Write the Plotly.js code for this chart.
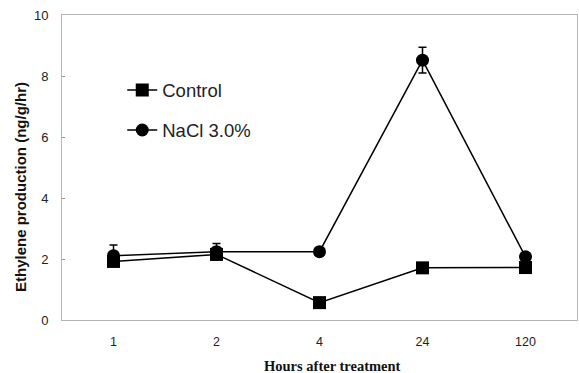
<!DOCTYPE html>
<html>
<head>
<meta charset="utf-8">
<script src="https://cdn.plot.ly/plotly-3.0.1.min.js"></script>
<style>html,body{margin:0;padding:0;background:#fff;}#chart{width:579px;height:373px;}</style>
</head>
<body>
<div id="chart"></div>
<script>
// Data
const hours = ['1', '2', '4', '24', '120'];
const controlValues = [1.92, 2.15, 0.57, 1.71, 1.72];
const controlErrors = [0.08, 0.08, 0.08, 0.08, 0.08];
const naclValues = [2.11, 2.24, 2.24, 8.52, 2.07];
const naclErrors = [0.35, 0.27, 0.05, 0.42, 0.12];
const yTicks = [0, 2, 4, 6, 8, 10];

const common = {
  type: 'scatter',
  mode: 'lines+markers',
  line: {color: '#000', width: 1.5},
  cliponaxis: false
};

const traces = [
  Object.assign({}, common, {
    x: hours, y: controlValues, name: 'Control', legendgroup: 'a',
    marker: {symbol: 'square', size: 13, color: '#000'},
    error_y: {type: 'data', array: controlErrors, visible: true, color: '#000', thickness: 1.5, width: 4}
  }),
  Object.assign({}, common, {
    x: hours, y: naclValues, name: 'NaCl 3.0%', legendgroup: 'b',
    marker: {symbol: 'circle', size: 13, color: '#000'},
    error_y: {type: 'data', array: naclErrors, visible: true, color: '#000', thickness: 1.5, width: 4}
  })
];

const layout = {
  width: 579, height: 373,
  margin: {l: 62, r: 2, t: 15, b: 53},
  paper_bgcolor: '#fff', plot_bgcolor: '#fff',
  font: {family: 'Liberation Sans, Arial, sans-serif', color: '#222'},
  showlegend: true,
  legend: {
    x: 0.117, y: 0.815, xanchor: 'left', yanchor: 'top',
    font: {size: 18.5, color: '#222', family: 'Liberation Sans, Arial, sans-serif'},
    bgcolor: 'rgba(0,0,0,0)', tracegroupgap: 13
  },
  xaxis: {
    type: 'category', categoryorder: 'array', categoryarray: hours,
    range: [-0.5, 4.5], showgrid: false, zeroline: false,
    showline: true, linecolor: '#b5b5b5', linewidth: 1, mirror: true,
    ticks: '', ticklabelstandoff: 10,
    tickfont: {size: 12.5, color: '#222'}
  },
  yaxis: {
    range: [0, 10], tickvals: yTicks, ticktext: yTicks.map(String),
    showgrid: false, zeroline: false,
    showline: true, linecolor: '#b5b5b5', linewidth: 1, mirror: true,
    ticks: 'inside', ticklen: 3, tickcolor: '#999',
    ticklabelstandoff: 10,
    tickfont: {size: 13, color: '#222'}
  },
  annotations: [
    {text: '<b>Ethylene production (ng/g/hr)</b>', xref: 'paper', yref: 'paper',
     x: -0.0816, y: 0.436, xanchor: 'center', yanchor: 'middle', textangle: -90, showarrow: false,
     font: {size: 15, family: 'Liberation Sans, Arial, sans-serif', color: '#111'}},
    {text: '<b>Hours after treatment</b>', xref: 'paper', yref: 'paper',
     x: 0.526, y: -0.151, xanchor: 'center', yanchor: 'middle', showarrow: false,
     font: {size: 14.5, family: 'Liberation Serif, Times New Roman, serif', color: '#111'}}
  ]
};

Plotly.newPlot('chart', traces, layout, {displayModeBar: false, staticPlot: true});
</script>
</body>
</html>
